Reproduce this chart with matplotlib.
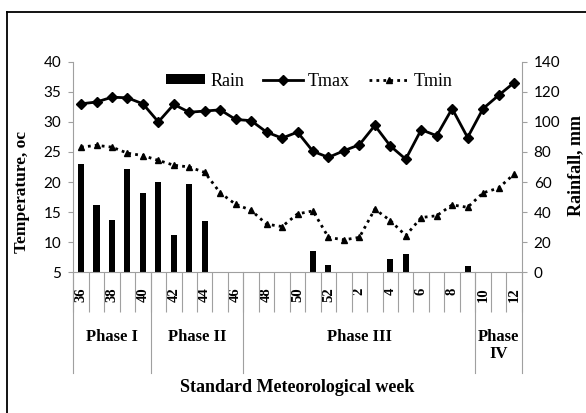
import numpy as np
import matplotlib
matplotlib.use("Agg")
import matplotlib.pyplot as plt
from matplotlib.lines import Line2D
from matplotlib.font_manager import FontProperties

# --- datos ---
weeks = [36, 37, 38, 39, 40, 41, 42, 43, 44, 45, 46, 47, 48, 49, 50, 51, 52,
         1, 2, 3, 4, 5, 6, 7, 8, 9, 10, 11, 12]
tmax = [33.0, 33.3, 34.1, 34.0, 33.0, 30.0, 32.9, 31.6, 31.8, 32.0, 30.4, 30.2,
        28.3, 27.3, 28.3, 25.1, 24.1, 25.2, 26.2, 29.4, 26.0, 23.8, 28.7, 27.7,
        32.2, 27.4, 32.2, 34.4, 36.5]
tmin = [25.8, 26.1, 25.8, 24.8, 24.4, 23.6, 22.8, 22.5, 21.6, 18.2, 16.3, 15.3,
        13.0, 12.6, 14.7, 15.2, 10.8, 10.4, 10.8, 15.5, 13.6, 11.1, 14.1, 14.4,
        16.2, 15.8, 18.2, 19.0, 21.3]
rain = [72, 45, 35, 69, 53, 60, 25, 59, 34, 0, 0, 0, 0, 0, 0, 14, 5, 0, 0, 0,
        9, 12, 0, 0, 0, 4, 0, 0, 0]
phases = ["Phase I", "Phase II", "Phase III", "Phase\nIV"]
phase_len = [5, 6, 15, 3]

SERIF = "Liberation Serif"
SANS = "Lato"
GRIS = "#a0a0a0"

x = np.arange(len(weeks))

fig = plt.figure(figsize=(5.86, 4.13), dpi=100)
ax = fig.add_axes([0.1251, 0.3407, 0.7652, 0.5099])
ax2 = ax.twinx()
ax.set_zorder(ax2.get_zorder() + 1)
ax.patch.set_visible(False)

# lluvia en el eje derecho
b = ax2.bar(x, rain, width=0.39, color="black", label="Rain")
ax2.set_ylim(0, 140)
ax2.set_yticks(np.arange(0, 141, 20))

# temperaturas en el eje izquierdo
l1, = ax.plot(x, tmax, color="black", lw=2.0, marker="D", ms=5.5, label="Tmax")
l2, = ax.plot(x, tmin, color="black", lw=2.0, ls=(0, (1, 1.5)), marker="^",
              ms=5, label="Tmin")
ax.set_ylim(5, 40)
ax.set_yticks(np.arange(5, 41, 5))
ax.set_xlim(-0.5, len(weeks) - 0.5)

for s in ["top", "right"]:
    ax.spines[s].set_visible(False)
for s in ["top", "left", "bottom"]:
    ax2.spines[s].set_visible(False)
ax.spines["left"].set_color(GRIS)
ax.spines["bottom"].set_color(GRIS)
ax2.spines["right"].set_color(GRIS)

ax.tick_params(axis="y", length=3.6, width=0.8, color=GRIS, pad=5,
               labelsize=11)
ax2.tick_params(axis="y", length=3.6, width=0.8, color=GRIS, pad=5,
                labelsize=11)
for t in ax.get_yticklabels() + ax2.get_yticklabels():
    t.set_fontfamily(SANS)

# eje de categorias: semanas
ax.set_xticks(x[::2])
ax.set_xticklabels([str(w) for w in weeks[::2]], rotation=90,
                   fontfamily=SERIF, fontweight="bold", fontsize=10.5)
ax.set_xticks(np.arange(len(weeks) + 1) - 0.5, minor=True)
ax.tick_params(axis="x", which="major", length=0, pad=11)
ax.tick_params(axis="x", which="minor", length=29, width=0.8, color=GRIS)

# separadores de fase y etiquetas
tr = ax.get_xaxis_transform()
bordes = np.concatenate([[0], np.cumsum(phase_len)]) - 0.5
for xb in bordes:
    ax.plot([xb, xb], [0, -0.48], transform=tr, color=GRIS, lw=0.8,
            clip_on=False)
for nombre, a, c in zip(phases, bordes[:-1], bordes[1:]):
    ax.text((a + c) / 2, -0.27, nombre, transform=tr, ha="center", va="top",
            fontfamily=SERIF, fontweight="bold", fontsize=12, linespacing=1.1)

ax.text(0.5, -0.545, "Standard Meteorological week", transform=ax.transAxes,
        ha="center", va="center", fontfamily=SERIF, fontweight="bold",
        fontsize=13)
fig.text(22.5 / 586, 1 - 191.5 / 413, "Temperature, oc", rotation=90,
         ha="center", va="center", fontfamily=SERIF, fontweight="bold",
         fontsize=12.5)
fig.text(575.5 / 586, 1 - 166 / 413, "Rainfall, mm", rotation=90,
         ha="center", va="center", fontfamily=SERIF, fontweight="bold",
         fontsize=13)

leg = ax.legend([b, l1, l2], ["Rain", "Tmax", "Tmin"], loc="center",
                bbox_to_anchor=(0.526, 0.908), ncol=3, frameon=False,
                prop=FontProperties(family=SERIF, size=13), handlelength=2.2,
                handleheight=0.5, handletextpad=0.28, columnspacing=1.05,
                borderpad=0)

# marco exterior (cortado a la derecha y abajo)
fig.add_artist(Line2D([7 / 586, 7 / 586], [0, 1 - 12 / 413], color="black",
                      lw=1.3))
fig.add_artist(Line2D([7 / 586, 1], [1 - 12 / 413, 1 - 12 / 413],
                      color="black", lw=1.3))

fig.savefig("out.png", dpi=100)
